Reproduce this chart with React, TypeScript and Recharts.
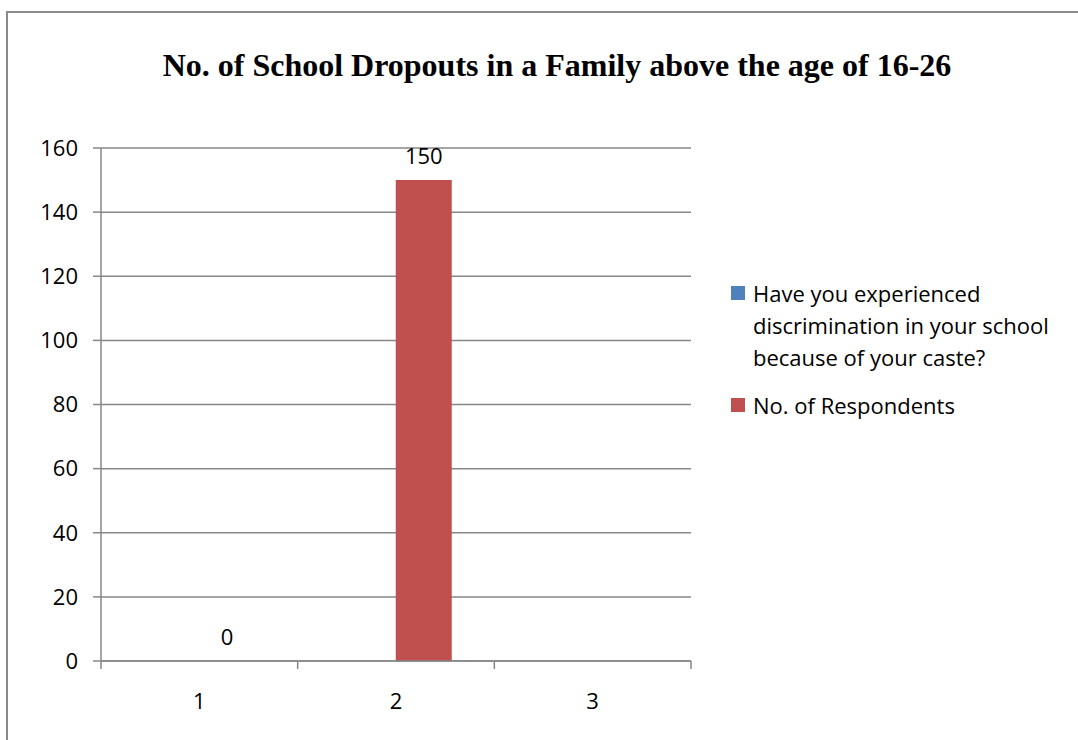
import React from 'react';
import { BarChart, Bar, XAxis, YAxis, CartesianGrid, LabelList } from 'recharts';

const categories = ['1', '2', '3'];
const discrimination: (number | null)[] = [null, null, null];
const respondents: (number | null)[] = [0, 150, null];
const yTicks = [0, 20, 40, 60, 80, 100, 120, 140, 160];
const seriesNames = ['Have you experienced discrimination in your school because of your caste?', 'No. of Respondents'];
const seriesColors = ['#4F81BD', '#C0504D'];
const title = 'No. of School Dropouts in a Family above the age of 16-26';

const data = categories.map((c, i) => ({ name: c, a: discrimination[i], b: respondents[i] }));

const W = 1078;
const H = 740;
const M = { top: 148, right: 387, bottom: 29, left: 41 };
const Y_W = 60;
const X_H = 50;
const PLOT_W = W - M.left - M.right - Y_W;
const BAND = PLOT_W / categories.length;
const GRID = '#878787';
const FONT = '"Open Sans", Lato, sans-serif';
const FS = 22;

const XTick = (props: any) => {
  const { x, y, payload, index } = props;
  const half = BAND / 2;
  return (
    <g>
      <line x1={x - half} x2={x - half} y1={y} y2={y + 8} stroke={GRID} strokeWidth={1.5} />
      {index === categories.length - 1 && (
        <line x1={x + half} x2={x + half} y1={y} y2={y + 8} stroke={GRID} strokeWidth={1.5} />
      )}
      <text x={x} y={y + 39} textAnchor="middle" dominantBaseline="central" fontSize={FS} fontFamily={FONT} fill="#000">
        {payload.value}
      </text>
    </g>
  );
};

const BarLabel = (props: any) => {
  const { x, y, width, value } = props;
  if (value === null || value === undefined) return null;
  return (
    <text x={x + width / 2} y={y - 25} textAnchor="middle" dominantBaseline="central" fontSize={FS} fontFamily={FONT} fill="#000">
      {value}
    </text>
  );
};

export default function App() {
  return (
    <div style={{ position: 'absolute', left: 0, top: 0, width: W, height: H, overflow: 'hidden', background: '#fff' }}>
      <div style={{ position: 'absolute', left: 6, top: 11, width: W + 40, height: H + 40, border: '2px solid #8a8a8a', boxSizing: 'border-box' }} />
      <div style={{ position: 'absolute', left: 0, width: 1114, top: 45, textAlign: 'center', fontFamily: '"Liberation Serif", "Times New Roman", serif', fontWeight: 'bold', fontSize: 32, lineHeight: '40px', color: '#000', whiteSpace: 'nowrap' }}>
        {title}
      </div>
      <div style={{ position: 'absolute', left: 0, top: 0 }}>
        <BarChart width={W} height={H} data={data} margin={M} barCategoryGap="21.4%" barGap={0}>
          <CartesianGrid vertical={false} stroke={GRID} strokeWidth={1.5} />
          <XAxis dataKey="name" height={X_H} axisLine={{ stroke: GRID, strokeWidth: 1.5 }} tickLine={false} tickSize={0} tickMargin={0} tick={<XTick />} interval={0} />
          <YAxis width={Y_W} domain={[0, 160]} ticks={yTicks} interval={0} axisLine={{ stroke: GRID, strokeWidth: 1.5 }} tickLine={{ stroke: GRID, strokeWidth: 1.5 }} tickSize={8} tickMargin={15} tick={{ fontSize: FS, fontFamily: FONT, fill: '#000' }} />
          <Bar dataKey="a" name={seriesNames[0]} fill={seriesColors[0]} isAnimationActive={false} />
          <Bar dataKey="b" name={seriesNames[1]} fill={seriesColors[1]} isAnimationActive={false} minPointSize={0.01}>
            <LabelList dataKey="b" content={<BarLabel />} />
          </Bar>
        </BarChart>
      </div>
      <div style={{ position: 'absolute', left: 731, top: 277, width: 335, fontFamily: FONT, fontSize: FS, lineHeight: '32px', color: '#000' }}>
        {seriesNames.map((n, i) => (
          <div key={n} style={{ display: 'flex', alignItems: 'flex-start', marginBottom: 16 }}>
            <div style={{ width: 14, height: 14, background: seriesColors[i], marginTop: 9, marginRight: 8, flexShrink: 0 }} />
            <div>{n}</div>
          </div>
        ))}
      </div>
    </div>
  );
}
